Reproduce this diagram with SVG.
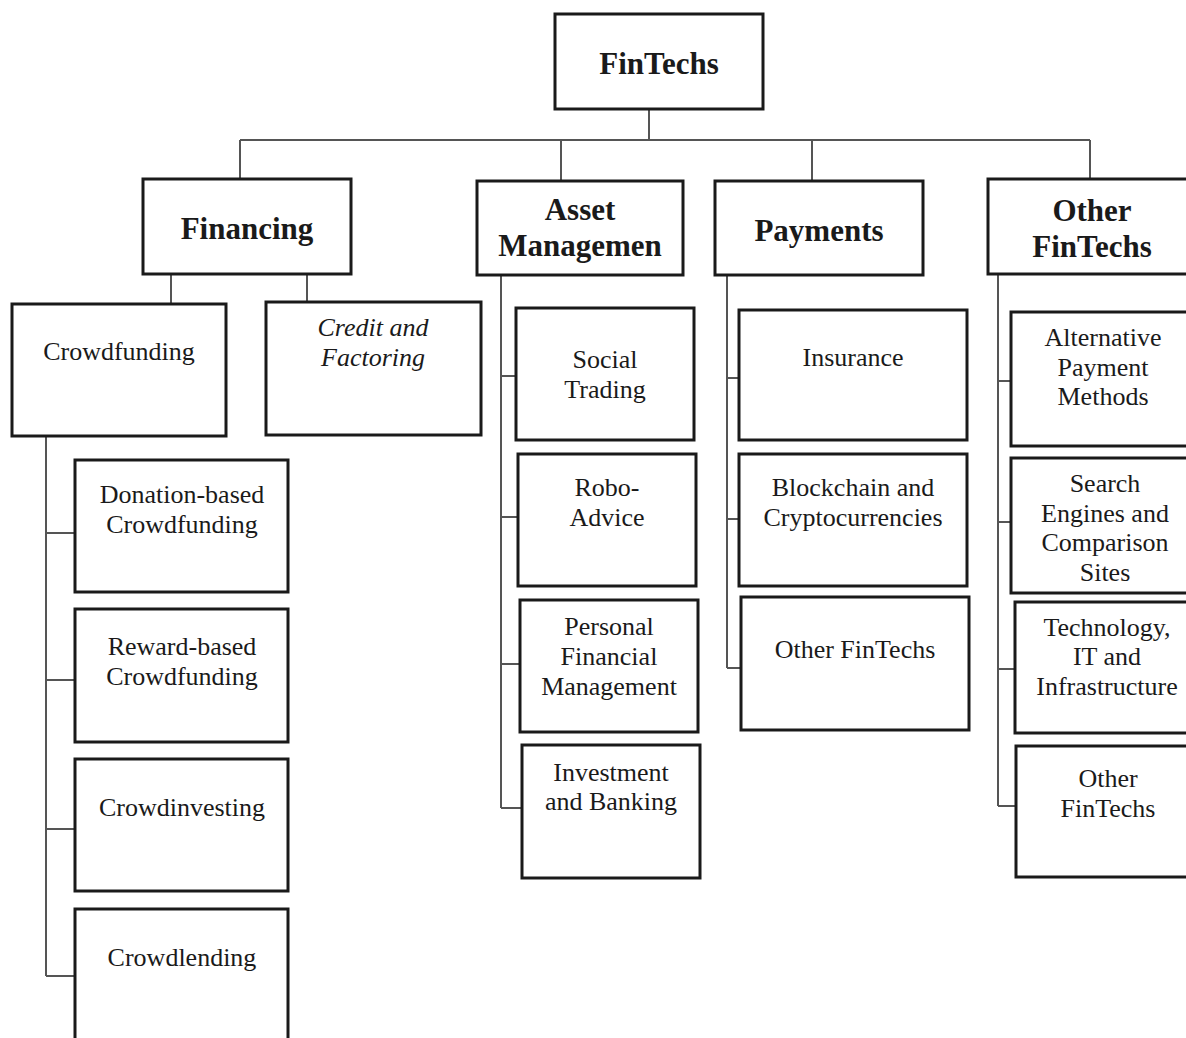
<svg xmlns="http://www.w3.org/2000/svg" width="1186" height="1038" viewBox="0 0 1186 1038">
<style>
.box{fill:#fff;stroke:#1a1a1a;stroke-width:3}
.con{fill:none;stroke:#555;stroke-width:2}
text{font-family:"Liberation Serif","Times New Roman",serif;fill:#1a1a1a;text-anchor:middle}
.h{font-size:31px;font-weight:bold}
.t{font-size:26px}
.i{font-size:26px;font-style:italic}
</style>
<rect width="1186" height="1038" fill="#fff"/>
<g id="connectors">
<path class="con" d="M649 109V140M240 140H1090M240 140V179M561 140V181M812 140V181M1090 140V179"/>
<path class="con" d="M171 274V304M307 274V302"/>
<path class="con" d="M46 436V976M46 533H75M46 680H75M46 829H75M46 976H75"/>
<path class="con" d="M501 275V808M501 376H516M501 517H518M501 664H520M501 808H522"/>
<path class="con" d="M727 275V668M727 378H739M727 519H739M727 668H741"/>
<path class="con" d="M998 274V806M998 381H1011M998 522H1011M998 669H1015M998 806H1016"/>
</g>
<g id="fintechs"><rect class="box" x="555" y="14" width="208" height="95"/><text class="h" x="659" y="74">FinTechs</text></g>
<g id="financing"><rect class="box" x="143" y="179" width="208" height="95"/><text class="h" x="247" y="239">Financing</text></g>
<g id="asset"><rect class="box" x="477" y="181" width="206" height="94"/><text class="h" x="580" y="220">Asset</text><text class="h" x="580" y="256">Managemen</text></g>
<g id="payments"><rect class="box" x="715" y="181" width="208" height="94"/><text class="h" x="819" y="241">Payments</text></g>
<g id="other"><rect class="box" x="988" y="179" width="210" height="95"/><text class="h" x="1092" y="221">Other</text><text class="h" x="1092" y="257">FinTechs</text></g>
<g id="crowdfunding"><rect class="box" x="12" y="304" width="214" height="132"/><text class="t" x="119" y="360">Crowdfunding</text></g>
<g id="credit"><rect class="box" x="266" y="302" width="215" height="133"/><text class="i" x="373" y="336">Credit and</text><text class="i" x="373" y="366">Factoring</text></g>
<g id="donation"><rect class="box" x="75" y="460" width="213" height="132"/><text class="t" x="182" y="503">Donation-based</text><text class="t" x="182" y="533">Crowdfunding</text></g>
<g id="reward"><rect class="box" x="75" y="609" width="213" height="133"/><text class="t" x="182" y="655">Reward-based</text><text class="t" x="182" y="685">Crowdfunding</text></g>
<g id="crowdinvesting"><rect class="box" x="75" y="759" width="213" height="132"/><text class="t" x="182" y="816">Crowdinvesting</text></g>
<g id="crowdlending"><rect class="box" x="75" y="909" width="213" height="140"/><text class="t" x="182" y="966">Crowdlending</text></g>
<g id="social"><rect class="box" x="516" y="308" width="178" height="132"/><text class="t" x="605" y="368">Social</text><text class="t" x="605" y="398">Trading</text></g>
<g id="robo"><rect class="box" x="518" y="454" width="178" height="132"/><text class="t" x="607" y="496">Robo-</text><text class="t" x="607" y="526">Advice</text></g>
<g id="pfm"><rect class="box" x="520" y="600" width="178" height="132"/><text class="t" x="609" y="635">Personal</text><text class="t" x="609" y="665">Financial</text><text class="t" x="609" y="695">Management</text></g>
<g id="invest"><rect class="box" x="522" y="745" width="178" height="133"/><text class="t" x="611" y="781">Investment</text><text class="t" x="611" y="810">and Banking</text></g>
<g id="insurance"><rect class="box" x="739" y="310" width="228" height="130"/><text class="t" x="853" y="366">Insurance</text></g>
<g id="blockchain"><rect class="box" x="739" y="454" width="228" height="132"/><text class="t" x="853" y="496">Blockchain and</text><text class="t" x="853" y="526">Cryptocurrencies</text></g>
<g id="payother"><rect class="box" x="741" y="597" width="228" height="133"/><text class="t" x="855" y="658">Other FinTechs</text></g>
<g id="altpay"><rect class="box" x="1011" y="312" width="186" height="134"/><text class="t" x="1103" y="346">Alternative</text><text class="t" x="1103" y="376">Payment</text><text class="t" x="1103" y="405">Methods</text></g>
<g id="search"><rect class="box" x="1011" y="458" width="186" height="135"/><text class="t" x="1105" y="492">Search</text><text class="t" x="1105" y="522">Engines and</text><text class="t" x="1105" y="551">Comparison</text><text class="t" x="1105" y="581">Sites</text></g>
<g id="tech"><rect class="box" x="1015" y="602" width="182" height="131"/><text class="t" x="1107" y="636">Technology,</text><text class="t" x="1107" y="665">IT and</text><text class="t" x="1107" y="695">Infrastructure</text></g>
<g id="otherft"><rect class="box" x="1016" y="746" width="181" height="131"/><text class="t" x="1108" y="787">Other</text><text class="t" x="1108" y="817">FinTechs</text></g>
</svg>
